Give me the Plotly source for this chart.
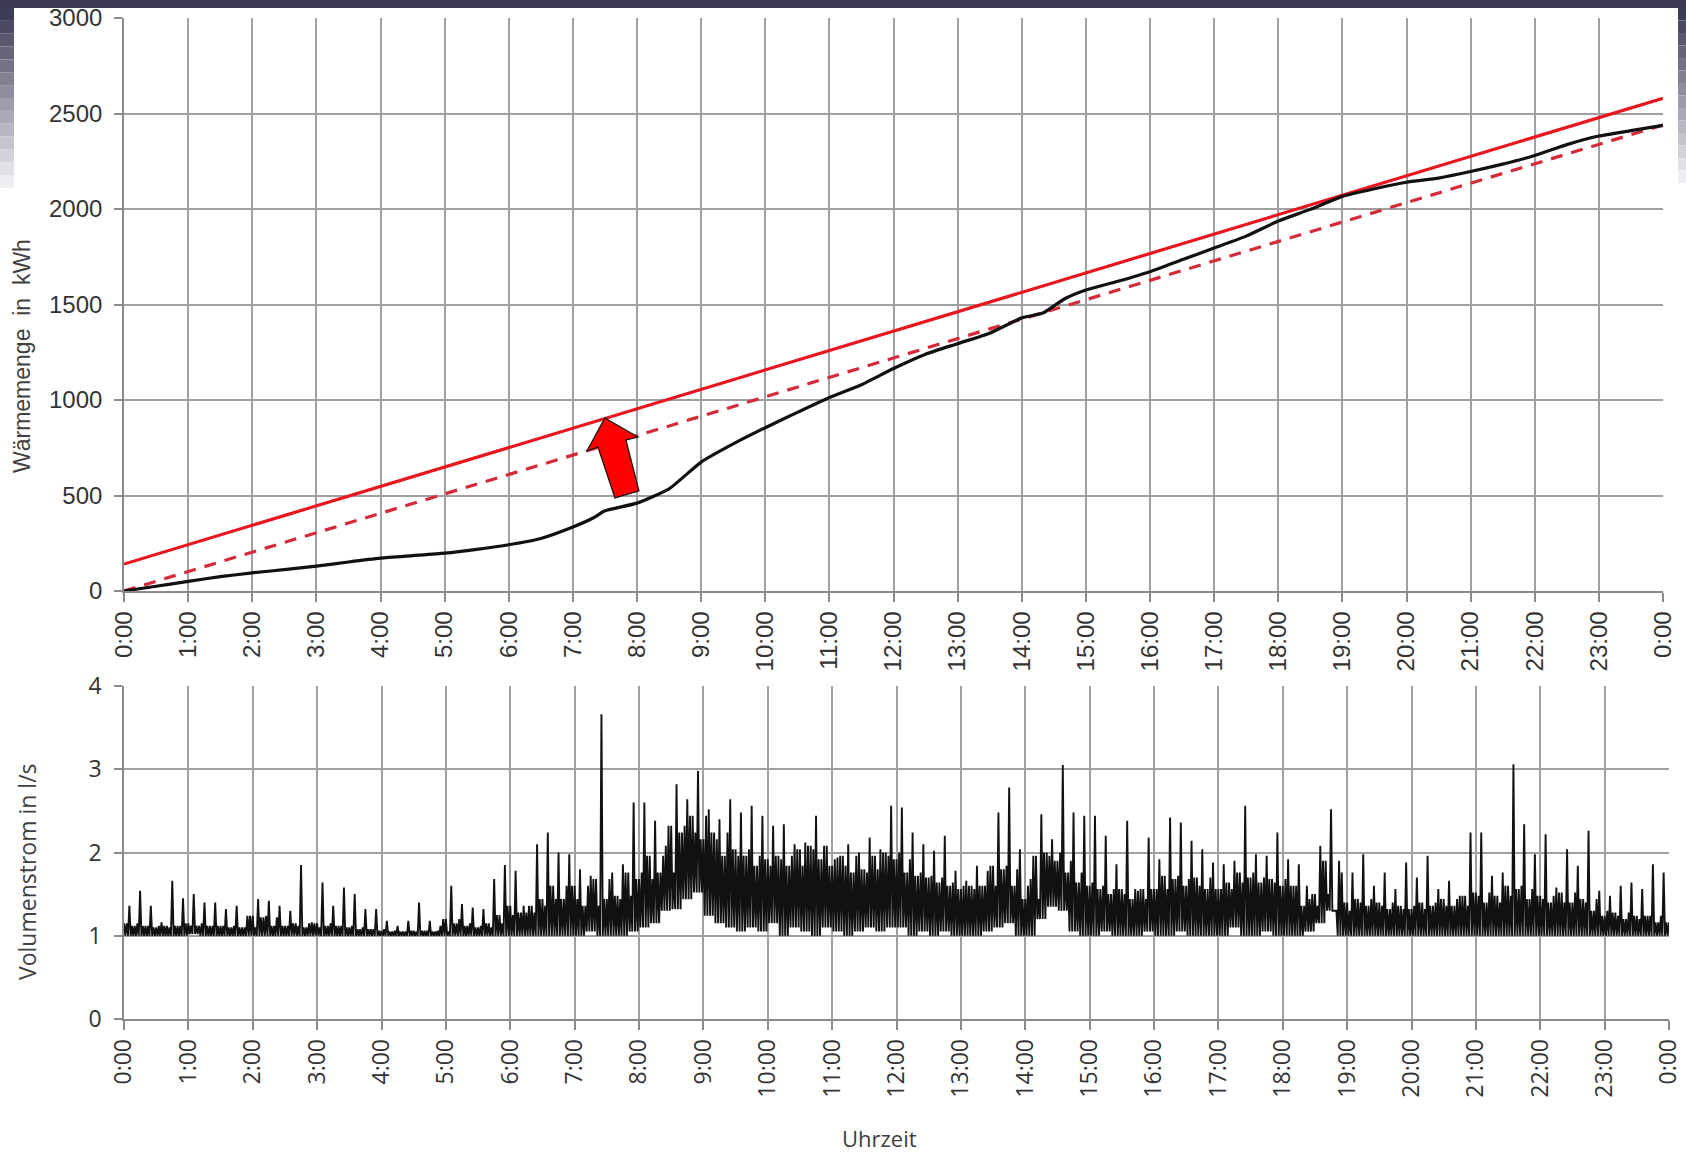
import plotly.graph_objects as go

W, H = 1686, 1152

# ---------------- data: top chart (cumulative heat) ----------------
heat_hours = [0, 0.5, 1, 1.5, 2, 2.5, 3, 3.5, 4, 4.5, 5, 5.5, 6, 6.5, 7, 7.33, 7.5,
              8, 8.5, 9, 9.5, 10, 10.5, 11, 11.5, 12, 12.5, 13, 13.5, 14, 14.33, 14.67,
              15, 15.5, 16, 16.5, 17, 17.5, 18, 18.5, 19, 19.5, 20, 20.5, 21, 21.5,
              22, 22.5, 23, 23.5, 24]
heat_kwh = [0, 25, 50, 75, 95, 112, 130, 152, 172, 185, 198, 218, 242, 275, 335, 385, 420,
            460, 535, 675, 770, 855, 935, 1013, 1080, 1165, 1240, 1295, 1350, 1430, 1455, 1530,
            1576, 1622, 1672, 1734, 1796, 1858, 1937, 1998, 2066, 2106, 2140, 2162, 2196, 2235,
            2280, 2337, 2382, 2410, 2438]
ref_hours = [0, 24]
ref_upper = [141, 2580]
ref_lower = [0, 2440]

tick_hours = list(range(25))
tick_labels = [f"{h % 24}:00" for h in tick_hours]

# ---------------- data: bottom chart (volume flow, l/s) ----------------
# per 10-minute slot: highest spike
flow_peak = [
    1.36, 1.54, 1.36, 1.16, 1.66, 1.45,
    1.50, 1.40, 1.40, 1.32, 1.36, 1.24,
    1.44, 1.42, 1.36, 1.30, 1.85, 1.16,
    1.64, 1.36, 1.58, 1.50, 1.32, 1.32,
    1.18, 1.12, 1.18, 1.40, 1.18, 1.12,
    1.60, 1.38, 1.34, 1.32, 1.68, 1.85,
    1.78, 1.28, 2.10, 2.24, 2.00, 1.98,
    1.80, 1.72, 3.66, 1.76, 1.86, 2.60,
    2.60, 2.38, 2.08, 2.82, 2.64, 2.98,
    2.52, 2.40, 2.64, 2.48, 2.56, 2.44,
    2.32, 2.34, 2.10, 2.12, 2.44, 2.08,
    1.94, 2.10, 2.00, 2.18, 2.04, 2.56,
    2.54, 2.24, 2.10, 2.02, 2.20, 1.78,
    1.66, 1.84, 1.78, 2.48, 2.78, 2.04,
    1.68, 2.46, 2.16, 3.05, 2.48, 2.44,
    2.44, 2.20, 1.86, 2.38, 1.54, 2.18,
    1.92, 2.42, 2.36, 2.14, 2.04, 1.88,
    1.86, 1.90, 2.56, 1.98, 1.96, 2.24,
    1.92, 1.86, 1.44, 2.08, 2.52, 1.76,
    1.76, 1.98, 1.60, 1.76, 1.56, 1.88,
    1.70, 1.96, 1.56, 1.66, 1.48, 2.24,
    2.24, 1.72, 1.76, 3.06, 2.34, 1.98,
    2.22, 1.58, 2.04, 1.84, 2.26, 1.54,
    1.48, 1.60, 1.64, 1.56, 1.86, 1.76,
]
# per 10-minute slot: upper edge of the dense band
flow_top = [
    1.15, 1.12, 1.12, 1.10, 1.12, 1.12,
    1.15, 1.12, 1.12, 1.12, 1.10, 1.10,
    1.24, 1.22, 1.12, 1.12, 1.15, 1.10,
    1.15, 1.12, 1.12, 1.10, 1.08, 1.08,
    1.06, 1.05, 1.05, 1.06, 1.06, 1.05,
    1.20, 1.15, 1.12, 1.10, 1.15, 1.25,
    1.36, 1.28, 1.36, 1.44, 1.60, 1.44,
    1.60, 1.36, 1.68, 1.44, 1.48, 1.76,
    1.68, 1.96, 1.76, 2.32, 2.24, 2.44,
    2.16, 2.24, 1.96, 2.04, 1.96, 1.84,
    1.92, 1.96, 1.84, 2.04, 2.08, 1.92,
    1.84, 1.96, 1.76, 1.80, 1.96, 2.00,
    1.92, 1.76, 1.72, 1.70, 1.64, 1.60,
    1.56, 1.60, 1.60, 1.84, 1.80, 1.60,
    1.44, 1.96, 2.00, 1.90, 1.76, 1.64,
    1.60, 1.56, 1.50, 1.56, 1.44, 1.56,
    1.56, 1.72, 1.68, 1.60, 1.70, 1.56,
    1.56, 1.64, 1.76, 1.70, 1.64, 1.68,
    1.60, 1.60, 1.36, 1.50, 1.90, 1.30,
    1.40, 1.44, 1.36, 1.40, 1.32, 1.36,
    1.32, 1.40, 1.36, 1.44, 1.36, 1.48,
    1.52, 1.40, 1.48, 1.60, 1.56, 1.44,
    1.48, 1.40, 1.52, 1.40, 1.44, 1.30,
    1.24, 1.28, 1.20, 1.24, 1.24, 1.16,
]
# per 10-minute slot: lowest value
flow_low = [
    1.00, 1.00, 1.00, 1.00, 1.00, 1.00,
    1.02, 1.00, 1.00, 1.00, 1.00, 1.00,
    1.00, 1.00, 1.00, 1.00, 1.00, 1.00,
    1.00, 1.00, 1.00, 1.00, 1.00, 1.00,
    1.00, 1.00, 1.00, 1.00, 1.00, 1.00,
    1.00, 1.00, 1.00, 1.00, 1.00, 1.00,
    1.00, 1.00, 1.00, 1.00, 1.00, 1.00,
    1.00, 1.05, 1.00, 1.00, 1.00, 1.05,
    1.10, 1.15, 1.30, 1.32, 1.44, 1.52,
    1.24, 1.15, 1.10, 1.05, 1.10, 1.05,
    1.15, 1.00, 1.10, 1.05, 1.00, 1.10,
    1.05, 1.00, 1.05, 1.10, 1.05, 1.10,
    1.10, 1.00, 1.05, 1.00, 1.05, 1.00,
    1.00, 1.00, 1.05, 1.10, 1.15, 1.00,
    1.00, 1.20, 1.35, 1.30, 1.05, 1.00,
    1.00, 1.05, 1.00, 1.00, 1.00, 1.05,
    1.00, 1.00, 1.05, 1.00, 1.00, 1.00,
    1.00, 1.10, 1.00, 1.00, 1.05, 1.00,
    1.00, 1.00, 1.05, 1.15, 1.30, 1.00,
    1.00, 1.00, 1.00, 1.00, 1.00, 1.00,
    1.00, 1.00, 1.00, 1.00, 1.00, 1.00,
    1.00, 1.00, 1.00, 1.00, 1.00, 1.00,
    1.00, 1.00, 1.00, 1.00, 1.00, 1.00,
    1.00, 1.00, 1.00, 1.00, 1.00, 1.00,
]

# ---------------- build traces ----------------
fig = go.Figure()

fig.add_trace(go.Scatter(x=ref_hours, y=ref_upper, mode="lines",
                         line=dict(color="#e8161e", width=3.2), xaxis="x", yaxis="y",
                         showlegend=False, hoverinfo="skip"))
fig.add_trace(go.Scatter(x=ref_hours, y=ref_lower, mode="lines",
                         line=dict(color="#d42a3a", width=3.2, dash="12px,9px"),
                         xaxis="x", yaxis="y", showlegend=False, hoverinfo="skip"))
fig.add_trace(go.Scatter(x=heat_hours, y=heat_kwh, mode="lines",
                         line=dict(color="#111111", width=3.2, shape="spline", smoothing=0.5),
                         xaxis="x", yaxis="y", showlegend=False, hoverinfo="skip"))

# volume flow: dense trace alternating between low, band tops (own and neighbouring slots) and spike
n_slots = len(flow_peak)
zx, zy = [], []
for i in range(n_slots):
    t0 = i * 10 / 60
    lo, top, pk = flow_low[i], flow_top[i], flow_peak[i]
    prev_top = flow_top[max(i - 1, 0)]
    next_top = flow_top[min(i + 1, n_slots - 1)]
    seq = [(0.0, top), (1.25, lo), (2.5, prev_top), (3.75, lo), (5.0, pk),
           (6.25, lo), (7.5, next_top), (8.75, lo)]
    for m, v in seq:
        zx.append(t0 + m / 60)
        zy.append(v)
zx.append(24)
zy.append(flow_top[-1])
fig.add_trace(go.Scatter(x=zx, y=zy, mode="lines", line=dict(color="#111111", width=1.9),
                         xaxis="x2", yaxis="y2", showlegend=False, hoverinfo="skip"))

# ---------------- layout ----------------
grid = "#a0a0a0"
top_dom_x = [124 / W, 1663 / W]
bot_dom_x = [124 / W, 1669 / W]
top_dom_y = [(H - 591) / H, (H - 18) / H]
bot_dom_y = [(H - 1019) / H, (H - 686) / H]

tick_font_top = dict(family="Liberation Sans, Arial", size=24, color="#333333")
tick_font_bot = dict(family="Open Sans, Liberation Sans", size=23, color="#333333")

common_x = dict(range=[0, 24], tickmode="array", tickvals=tick_hours, ticktext=tick_labels,
                tickangle=-90, showgrid=True, gridcolor=grid, gridwidth=1.6,
                showline=True, linecolor="#8a8a8a", linewidth=1.6,
                ticks="outside", ticklen=9, tickcolor="#8a8a8a", tickwidth=1.5,
                zeroline=False, fixedrange=True, automargin=False)
common_y = dict(showgrid=True, gridcolor=grid, gridwidth=1.6, showline=True, linecolor="#8a8a8a",
                linewidth=1.6, ticks="outside", ticklen=8, tickcolor="#8a8a8a", tickwidth=1.5,
                zeroline=False, automargin=False, fixedrange=True)

fig.update_layout(
    width=W, height=H,
    margin=dict(l=0, r=0, t=0, b=0, pad=0, autoexpand=False),
    paper_bgcolor="white", plot_bgcolor="white",
    xaxis=dict(domain=top_dom_x, anchor="y", tickfont=tick_font_top, **common_x),
    yaxis=dict(domain=top_dom_y, anchor="x", range=[0, 3000],
               tickvals=[0, 500, 1000, 1500, 2000, 2500, 3000],
               tickfont=tick_font_top, ticklabelstandoff=7, **common_y),
    xaxis2=dict(domain=bot_dom_x, anchor="y2", tickfont=tick_font_bot, **common_x),
    yaxis2=dict(domain=bot_dom_y, anchor="x2", range=[0, 4], tickvals=[0, 1, 2, 3, 4],
                tickfont=tick_font_bot, ticklabelstandoff=8, **common_y),
)

annotations = [
    dict(text="Wärmemenge  in  kWh", x=22 / W, y=(H - 356) / H, xref="paper", yref="paper",
         xanchor="center", yanchor="middle",
         textangle=-90, showarrow=False, font=dict(family="Liberation Sans, Arial", size=23, color="#404040")),
    dict(text="Volumenstrom in l/s", x=27 / W, y=(H - 872) / H, xref="paper", yref="paper",
         xanchor="center", yanchor="middle",
         textangle=-90, showarrow=False, font=dict(family="Open Sans, Liberation Sans", size=23, color="#404040")),
    dict(text="Uhrzeit", x=879 / W, y=(H - 1138) / H, xref="paper", yref="paper",
         xanchor="center", yanchor="middle",
         showarrow=False, font=dict(family="Open Sans, Liberation Sans", size=22, color="#404040")),
]
fig.update_layout(annotations=annotations)

shapes = []
# slide decoration: top bar
shapes.append(dict(type="rect", xref="paper", yref="paper", x0=0, x1=1, y0=(H - 8) / H, y1=1,
                   fillcolor="#3b3a52", line=dict(width=0), layer="above"))
# gradient strips at the left and right edge
n = 14
for k in range(n):
    f = k / (n - 1)
    r = int(0x3e + (0xee - 0x3e) * f)
    g = int(0x3d + (0xee - 0x3d) * f)
    b = int(0x56 + (0xf2 - 0x56) * f)
    col = f"rgb({r},{g},{b})"
    y_top = 8 + k * (180 / n)
    y_bot = 8 + (k + 1) * (180 / n)
    shapes.append(dict(type="rect", xref="paper", yref="paper", x0=0, x1=14 / W,
                       y0=(H - y_bot) / H, y1=(H - y_top) / H, fillcolor=col, line=dict(width=0)))
    y_top2 = 8 + k * (175 / n)
    y_bot2 = 8 + (k + 1) * (175 / n)
    shapes.append(dict(type="rect", xref="paper", yref="paper", x0=1678 / W, x1=1,
                       y0=(H - y_bot2) / H, y1=(H - y_top2) / H, fillcolor=col, line=dict(width=0)))

# red block arrow (pixel-sized, anchored at its tip)
arrow_pts = [(0, 0), (33, -19), (21, -22), (34, -73), (10, -80), (-7, -29), (-18, -33)]
path = "M " + " L ".join(f"{px},{py}" for px, py in arrow_pts) + " Z"
shapes.append(dict(type="path", xref="x", yref="y", xsizemode="pixel", ysizemode="pixel",
                   xanchor=7.5, yanchor=906, path=path, fillcolor="#ff0000",
                   line=dict(color="#111111", width=1.2), layer="above"))
fig.update_layout(shapes=shapes)

fig.write_html("out.html")
